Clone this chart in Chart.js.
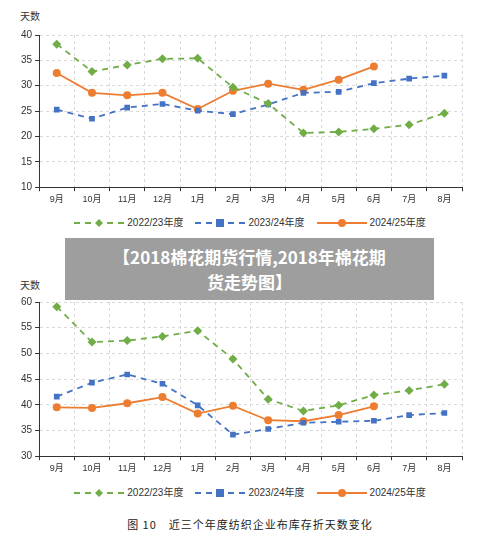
<!DOCTYPE html>
<html>
<head>
<meta charset="utf-8">
<script src="https://cdn.jsdelivr.net/npm/chart.js@4"></script>
<style>
  body { margin: 0; width: 500px; height: 539px; background: #fff; position: relative; font-family: "Noto Sans CJK SC", sans-serif; overflow: hidden; }
  .box { position: absolute; left: 0; width: 500px; }
  .unit { position: absolute; left: 20px; font-size: 10px; color: #333; }
  .legend { position: absolute; left: 0; width: 500px; text-align: center; font-size: 10px; color: #333; font-family: "Liberation Sans", "Noto Sans CJK SC"; }
  .legend span { display: inline-block; margin: 0 6px; }
  .legend svg { vertical-align: middle; margin-right: 3px; }
  #banner { position: absolute; left: 65px; top: 238px; width: 369px; height: 62px; background: #9e9e9e; color: #fff; font-weight: bold; font-size: 17px; text-align: center; line-height: 25px; padding-top: 6px; box-sizing: border-box; }
  #caption { position: absolute; top: 516px; left: 0; width: 500px; text-align: center; font-size: 11px; color: #222; letter-spacing: 1px; }
</style>
</head>
<body>
<div class="unit" style="top:8px">天数</div>
<div class="box" style="top:26px;height:182px"><canvas id="c1"></canvas></div>
<div class="legend" id="l1" style="top:214px"></div>
<div class="unit" style="top:277px">天数</div>
<div class="box" style="top:293px;height:184px"><canvas id="c2"></canvas></div>
<div class="legend" id="l2" style="top:484px"></div>
<div id="banner">【2018棉花期货行情,2018年棉花期<br>货走势图】</div>
<div id="caption">图 10　近三个年度纺织企业布库存折天数变化</div>
<script>
const months = ['9月','10月','11月','12月','1月','2月','3月','4月','5月','6月','7月','8月'];
const seriesNames = ['2022/23年度','2023/24年度','2024/25年度'];
const colors = ['#70ad47', '#4472c4', '#ed7d31'];

const top2223 = [38.2, 32.8, 34.1, 35.3, 35.4, 29.7, 26.5, 20.7, 20.9, 21.5, 22.3, 24.6];
const top2324 = [25.3, 23.5, 25.7, 26.4, 25.1, 24.4, 26.3, 28.6, 28.8, 30.5, 31.4, 32.0];
const top2425 = [32.5, 28.6, 28.1, 28.6, 25.4, 29.0, 30.4, 29.2, 31.2, 33.8];

const bot2223 = [59.1, 52.2, 52.5, 53.3, 54.4, 48.9, 41.1, 38.8, 39.9, 41.9, 42.8, 44.0];
const bot2324 = [41.6, 44.3, 45.9, 44.1, 39.9, 34.2, 35.3, 36.5, 36.7, 36.9, 38.0, 38.4];
const bot2425 = [39.5, 39.4, 40.3, 41.5, 38.3, 39.8, 37.0, 36.8, 38.0, 39.7];

// html legend: line + marker
function legendHtml() {
    const marks = [
        '<polygon points="25,1 29,5 25,9 21,5" fill="' + colors[0] + '"/>',
        '<rect x="21" y="1" width="8" height="8" fill="' + colors[1] + '"/>',
        '<circle cx="25" cy="5" r="4" fill="' + colors[2] + '"/>'
    ];
    return seriesNames.map((n, i) => {
        let dash = i < 2 ? ' stroke-dasharray="6,5"' : '';
        return '<span><svg width="50" height="10"><line x1="0" y1="5" x2="50" y2="5" stroke="' + colors[i] +
            '" stroke-width="1.8"' + dash + '/>' + marks[i] + '</svg>' + n + '</span>';
    }).join('');
}

function makeChart(id, a, b, c, min, max) {
    let data = {
        labels: months,
        datasets: [{
            label: seriesNames[0], data: a,
            borderColor: colors[0], backgroundColor: colors[0],
            borderDash: [6, 5], borderWidth: 1.8,
            pointStyle: 'rectRot', pointRadius: 4.5, pointBorderWidth: 0
        }, {
            label: seriesNames[1], data: b,
            borderColor: colors[1], backgroundColor: colors[1],
            borderDash: [6, 5], borderWidth: 1.8,
            pointStyle: 'rect', pointRadius: 4, pointBorderWidth: 0
        }, {
            label: seriesNames[2], data: c,
            borderColor: colors[2], backgroundColor: colors[2],
            borderWidth: 1.8,
            pointStyle: 'circle', pointRadius: 4, pointBorderWidth: 0
        }]
    };
    return new Chart(document.getElementById(id), {
        type: 'line',
        data: data,
        options: {
            responsive: true, maintainAspectRatio: false, animation: false,
            layout: { padding: { left: 18, right: 38, top: 5 } },
            plugins: { legend: { display: false }, tooltip: { enabled: false } },
            scales: {
                x: {
                    offset: true,
                    grid: { offset: true, color: '#d9d9d9', tickColor: '#333', tickLength: 4 },
                    border: { color: '#333', dash: [3, 3] },
                    ticks: { font: { size: 9 }, color: '#333' }
                },
                y: {
                    min: min, max: max,
                    grid: { color: '#d9d9d9', tickColor: '#333', tickLength: 4 },
                    border: { color: '#333', dash: [3, 3] },
                    ticks: { stepSize: 5, font: { size: 10 }, color: '#333' }
                }
            },
            elements: { line: { tension: 0 } }
        }
    });
}

Chart.defaults.font.family = 'Liberation Sans, Noto Sans CJK SC, sans-serif';
makeChart('c1', top2223, top2324, top2425, 10, 40);
makeChart('c2', bot2223, bot2324, bot2425, 30, 60);
document.getElementById('l1').innerHTML = legendHtml();
document.getElementById('l2').innerHTML = legendHtml();
</script>
</body>
</html>
